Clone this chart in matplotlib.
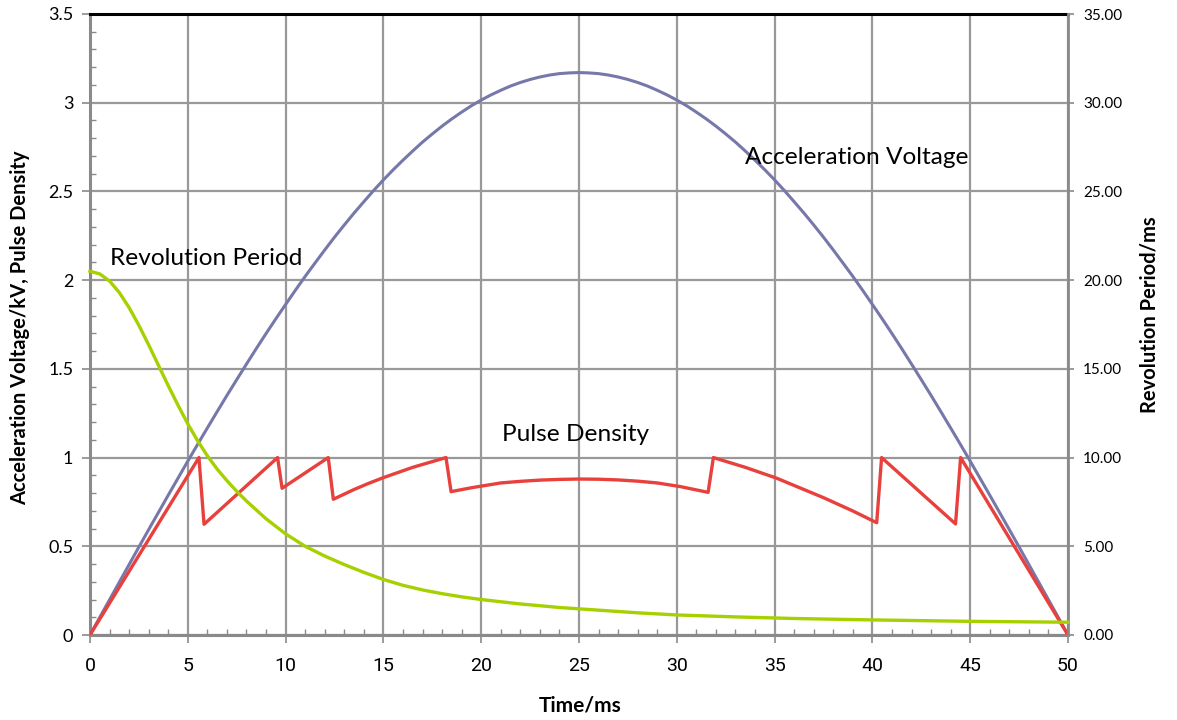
import matplotlib
matplotlib.use("Agg")
import matplotlib.pyplot as plt
from matplotlib.ticker import MultipleLocator, FuncFormatter

plt.rcParams['font.family'] = ['Lato', 'DejaVu Sans']

# ---- data ----
volt_t = [i * 0.5 for i in range(101)]
volt_v = [0.000, 0.100, 0.199, 0.298, 0.397, 0.496, 0.594, 0.691, 0.788, 0.884,
          0.980, 1.074, 1.167, 1.259, 1.350, 1.439, 1.527, 1.614, 1.699, 1.782,
          1.863, 1.943, 2.021, 2.096, 2.170, 2.242, 2.311, 2.378, 2.442, 2.505,
          2.565, 2.622, 2.676, 2.728, 2.778, 2.824, 2.868, 2.909, 2.947, 2.983,
          3.015, 3.044, 3.070, 3.094, 3.114, 3.131, 3.145, 3.156, 3.164, 3.168,
          3.170,
          3.168, 3.164, 3.156, 3.145, 3.131, 3.114, 3.094, 3.070, 3.044, 3.015,
          2.983, 2.947, 2.909, 2.868, 2.824, 2.778, 2.728, 2.676, 2.622, 2.565,
          2.505, 2.442, 2.378, 2.311, 2.242, 2.170, 2.096, 2.021, 1.943, 1.863,
          1.782, 1.699, 1.614, 1.527, 1.439, 1.350, 1.259, 1.167, 1.074, 0.980,
          0.884, 0.788, 0.691, 0.594, 0.496, 0.397, 0.298, 0.199, 0.100, 0.000]

pulse_t = [0, 5.57, 5.83, 9.59, 9.82, 12.18, 12.44, 13.5, 14.25, 15.0, 16.5, 18.2,
           18.46, 19.5, 21.0, 22.0, 23.0, 24.0, 25.0, 26.0, 27.0, 28.0, 29.0, 30.2,
           31.6, 31.87, 33.5, 35.1, 37.5, 39.0, 40.22, 40.47, 44.25, 44.51, 50]
pulse_v = [0.0, 1.0, 0.624, 1.0, 0.827, 1.0, 0.765, 0.82, 0.855, 0.887, 0.945, 1.0,
           0.808, 0.83, 0.857, 0.866, 0.873, 0.877, 0.879, 0.878, 0.874, 0.867,
           0.857, 0.836, 0.804, 1.0, 0.945, 0.884, 0.774, 0.699, 0.633, 1.0, 0.626,
           1.0, 0.0]

period_t = [0, 0.5, 1, 1.5, 2, 2.5, 3, 3.5, 4, 4.5, 5, 5.5, 6, 6.5, 7, 7.5, 8, 9,
            10, 11, 12, 13, 14, 15, 16, 17, 18, 19, 20, 22, 24, 26, 28, 30, 33, 36,
            40, 45, 50]
period_v = [20.5, 20.35, 19.95, 19.3, 18.45, 17.45, 16.35, 15.2, 14.05, 12.95,
            11.9, 10.95, 10.1, 9.35, 8.7, 8.1, 7.55, 6.55, 5.7, 5.0, 4.45, 3.97,
            3.53, 3.13, 2.8, 2.54, 2.33, 2.15, 2.0, 1.75, 1.55, 1.4, 1.25, 1.13,
            1.02, 0.93, 0.85, 0.77, 0.72]

x_ticks = [0, 5, 10, 15, 20, 25, 30, 35, 40, 45, 50]
left_ticks = [0, 0.5, 1, 1.5, 2, 2.5, 3, 3.5]
right_ticks = [0, 5, 10, 15, 20, 25, 30, 35]

labels = {
    'volt': 'Acceleration Voltage',
    'period': 'Revolution Period',
    'pulse': 'Pulse Density',
    'x': 'Time/ms',
    'yl': 'Acceleration Voltage/kV, Pulse Density',
    'yr': 'Revolution Period/ms',
}

c_volt = '#7778aa'
c_pulse = '#e8403c'
c_period = '#a6d000'
c_grid = '#999999'

fig = plt.figure(figsize=(11.77, 7.2), dpi=100)
ax = fig.add_axes([90/1177, 1 - 635/720, (1068-90)/1177, (635-14)/720])
ax2 = ax.twinx()

ax.set_xlim(0, 50)
ax.set_ylim(0, 3.5)
ax2.set_ylim(0, 35)

ax.set_xticks(x_ticks)
ax.set_yticks(left_ticks)
ax2.set_yticks(right_ticks)
ax.xaxis.set_minor_locator(MultipleLocator(1))
ax.yaxis.set_minor_locator(MultipleLocator(0.1))
ax.yaxis.set_major_formatter(FuncFormatter(lambda v, p: f'{v:g}'))
ax2.yaxis.set_major_formatter(FuncFormatter(lambda v, p: f'{v:.2f}'))

ax.grid(True, which='major', color=c_grid, linewidth=1.6)
ax.set_axisbelow(True)

ax.plot(volt_t, volt_v, color=c_volt, linewidth=2.2, zorder=3)
ax.plot(pulse_t, pulse_v, color=c_pulse, linewidth=2.4, zorder=4)
ax2.plot(period_t, period_v, color=c_period, linewidth=2.4, zorder=3, clip_on=False)

for s in ['left', 'bottom']:
    ax.spines[s].set_color('#8a8a8a')
    ax.spines[s].set_linewidth(2.2)
ax.spines['top'].set_color('black')
ax.spines['top'].set_linewidth(2.2)
ax.spines['right'].set_visible(False)
for s in ['left', 'bottom', 'top']:
    ax2.spines[s].set_visible(False)
ax2.spines['right'].set_color('#8a8a8a')
ax2.spines['right'].set_linewidth(2.0)

ax.tick_params(axis='both', which='major', direction='out', length=6, width=1.2,
               color='#8a8a8a', labelsize=13)
ax.tick_params(axis='x', which='major', pad=10)
ax.tick_params(axis='y', which='major', pad=6)
ax.tick_params(axis='both', which='minor', direction='in', length=4, width=1.0,
               color='#8a8a8a')
for lbl in ax.get_xticklabels():
    lbl.set_family(['Liberation Sans Narrow', 'Roboto', 'DejaVu Sans'])
    lbl.set_fontsize(14)
ax2.tick_params(axis='y', which='major', direction='out', length=4, width=1.2,
                color='#8a8a8a', labelsize=11, pad=7)

fig.text(580/1177, 1 - 705/720, labels['x'], fontsize=15, fontweight='bold',
         ha='center', va='center')
fig.text(20/1177, 1 - 328/720, labels['yl'], fontsize=14.5, fontweight='bold',
         ha='center', va='center', rotation=90)
fig.text(1150/1177, 1 - 315/720, labels['yr'], fontsize=14.5, fontweight='bold',
         ha='center', va='center', rotation=90)

ax.text(1.0, 2.12, labels['period'], fontsize=17.6, va='center', ha='left', zorder=5)
ax.text(33.5, 2.69, labels['volt'], fontsize=17.6, va='center', ha='left', zorder=5)
ax.text(21.05, 1.13, labels['pulse'], fontsize=17.6, va='center', ha='left', zorder=5)

fig.savefig('out.png', dpi=100)
